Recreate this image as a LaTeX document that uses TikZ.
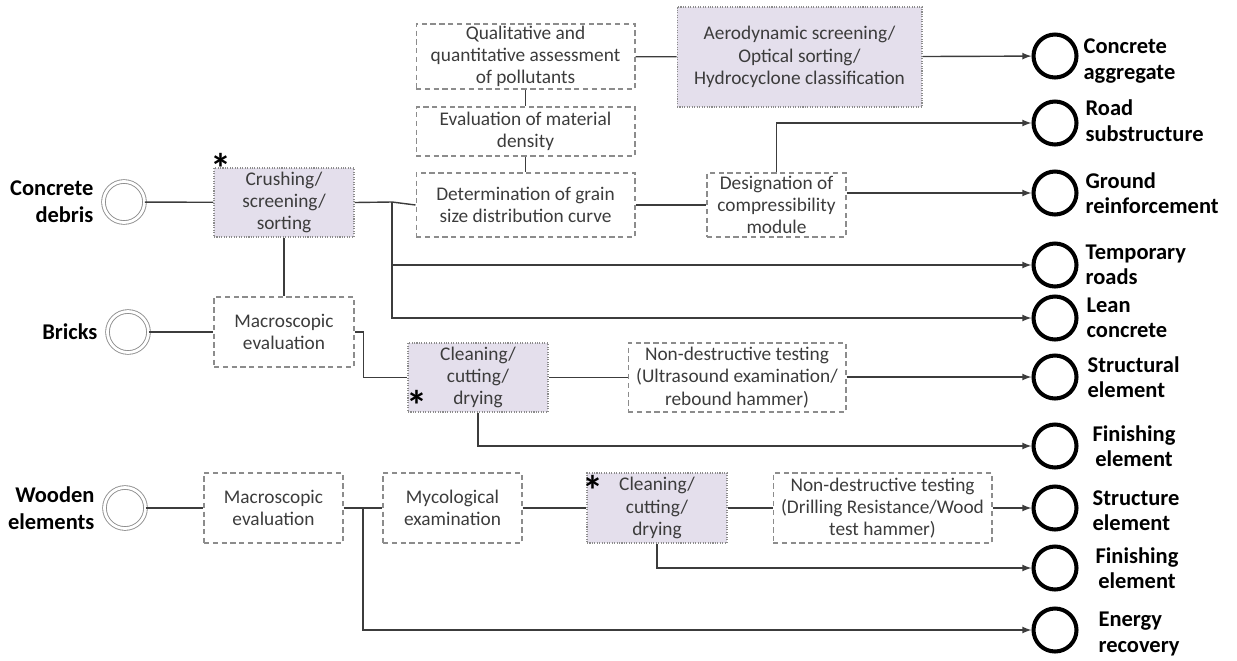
\documentclass[tikz,border=0pt]{standalone}
\usepackage{fontspec}
\setmainfont{Carlito}
\usetikzlibrary{positioning}
\definecolor{boxfill}{HTML}{E4DFEC}
\definecolor{boxline}{HTML}{8C8C8C}
\definecolor{linkgray}{HTML}{3C3C3C}
\tikzset{
	testbox/.style={draw=boxline, dash pattern=on 3pt off 2pt, line width=0.6pt, text=linkgray, align=center, inner sep=1pt, font=\fontsize{11}{12.7}\selectfont},
	procbox/.style={testbox, fill=boxfill, dash pattern=on 0.6pt off 0.8pt},
	source/.style={circle, draw=boxline, line width=0.5pt, double, double distance=1.6pt, minimum size=0.82cm},
	product/.style={circle, draw=black, line width=2.3pt, minimum size=0.86cm},
	srclabel/.style={font=\bfseries\fontsize{12.8}{15.2}\selectfont, align=right, inner sep=1pt},
	outlabel/.style={font=\bfseries\fontsize{12.8}{14.5}\selectfont, align=left, inner sep=1pt},
	star/.style={font=\bfseries\fontsize{24}{24}\selectfont, inner sep=0pt},
	link/.style={draw=linkgray, line width=0.8pt}
}
\begin{document}
\begin{tikzpicture}[x=0.02cm, y=-0.02cm]
		\useasboundingbox (0,0) rectangle (1237,660);

		\node[source] (conc) at (124,202) {};
		\node[source] (brick) at (128,332) {};
		\node[source] (wood) at (125,508) {};
		\node[srclabel, left=0.15cm of conc] (concL) {Concrete\\debris};
		\node[srclabel, left=0.15cm of brick] (brickL) {Bricks};
		\node[srclabel, left=0.15cm of wood] (woodL) {Wooden\\elements};

		\node[procbox, minimum width=2.8cm, minimum height=1.38cm] (crush) at (284,202.5) {Crushing/\\screening/\\sorting};
		\node[testbox, minimum width=4.38cm, minimum height=1.3cm] (qual) at (525.5,56.5) {Qualitative and\\quantitative assessment\\of pollutants};
		\node[procbox, minimum width=4.9cm, minimum height=2cm] (aero) at (799.5,57) {Aerodynamic screening/\\Optical sorting/\\Hydrocyclone classification};
		\node[testbox, minimum width=4.38cm, minimum height=0.98cm] (dens) at (525.5,131.5) {Evaluation of material\\density};
		\node[testbox, minimum width=4.38cm, minimum height=1.28cm] (grain) at (525.5,205) {Determination of grain\\size distribution curve};
		\node[testbox, minimum width=2.78cm, minimum height=1.28cm] (desig) at (776.5,205) {Designation of\\compressibility\\module};

		\node[testbox, minimum width=2.8cm, minimum height=1.4cm] (macrob) at (284,332) {Macroscopic\\evaluation};
		\node[procbox, minimum width=2.8cm, minimum height=1.38cm] (cleanb) at (478,377.5) {Cleaning/\\cutting/\\drying};
		\node[testbox, minimum width=4.36cm, minimum height=1.38cm] (ndtb) at (737,377.5) {Non-destructive testing\\(Ultrasound examination/\\rebound hammer)};

		\node[testbox, minimum width=2.78cm, minimum height=1.4cm] (macrow) at (273.5,508) {Macroscopic\\evaluation};
		\node[testbox, minimum width=2.78cm, minimum height=1.4cm] (myco) at (452.5,508) {Mycological\\examination};
		\node[procbox, minimum width=2.8cm, minimum height=1.4cm] (cleanw) at (657,508) {Cleaning/\\cutting/\\drying};
		\node[testbox, minimum width=4.38cm, minimum height=1.4cm] (ndtw) at (882.5,508) {Non-destructive testing\\(Drilling Resistance/Wood\\test hammer)};

		\node[star] (starA) at (221,168) {*};
		\node[star] (starB) at (417,405) {*};
		\node[star] (starC) at (593,490) {*};

		\node[product] (agg) at (1055,56) {};
		\node[product] (road) at (1055,123) {};
		\node[product] (ground) at (1055,193) {};
		\node[product] (temp) at (1055,265) {};
		\node[product] (lean) at (1055,318) {};
		\node[product] (struct) at (1055,377) {};
		\node[product] (finb) at (1055,446) {};
		\node[product] (structw) at (1055,508) {};
		\node[product] (finw) at (1055,568) {};
		\node[product] (energy) at (1055,630) {};

		\node[outlabel, right=0.06cm of agg, yshift=-0.1cm] (aggL) {Concrete\\aggregate};
		\node[outlabel, right=0.1cm of road, yshift=0.05cm] (roadL) {Road\\ substructure};
		\node[outlabel, right=0.1cm of ground] (groundL) {Ground\\reinforcement};
		\node[outlabel, right=0.1cm of temp] (tempL) {Temporary\\ roads};
		\node[outlabel, right=0.12cm of lean] (leanL) {Lean\\concrete};
		\node[outlabel, right=0.14cm of struct] (structL) {Structural\\element};
		\node[outlabel, right=0.24cm of finb, align=center] (finbL) {Finishing\\element};
		\node[outlabel, right=0.24cm of structw, yshift=-0.05cm] (structwL) {Structure\\element};
		\node[outlabel, right=0.3cm of finw, align=center] (finwL) {Finishing\\element};
		\node[outlabel, right=0.36cm of energy, yshift=-0.08cm] (energyL) {Energy\\recovery};

		\coordinate (jc) at (392,202);
		\coordinate (jw) at (363,508);

		\draw[link] (conc) -- (crush);
		\draw[link] (crush.east) -- (jc) -- (grain.west);
		\draw[link, -latex] (jc) |- (temp);
		\draw[link, -latex] (jc) |- (lean);
		\draw[link] (crush) -- (macrob);
		\draw[link] (qual) -- (dens);
		\draw[link] (dens) -- (grain);
		\draw[link] (qual) -- (aero);
		\draw[link, -latex] (aero) -- (agg);
		\draw[link] (grain) -- (desig);
		\draw[link, -latex] (desig.north) |- (road);
		\draw[link, -latex] (desig.east |- ground) -- (ground);

		\draw[link] (brick) -- (macrob);
		\draw[link] (macrob.east) -- ++(9,0) |- (cleanb.west);
		\draw[link] (cleanb) -- (ndtb);
		\draw[link, -latex] (ndtb.east |- struct) -- (struct);
		\draw[link, -latex] (cleanb.south) |- (finb);

		\draw[link] (wood) -- (macrow);
		\draw[link] (macrow) -- (myco);
		\draw[link, -latex] (jw) |- (energy);
		\draw[link] (myco) -- (cleanw);
		\draw[link] (cleanw) -- (ndtw);
		\draw[link, -latex] (ndtw) -- (structw);
		\draw[link, -latex] (cleanw.south) |- (finw);
	\end{tikzpicture}
\end{document}
